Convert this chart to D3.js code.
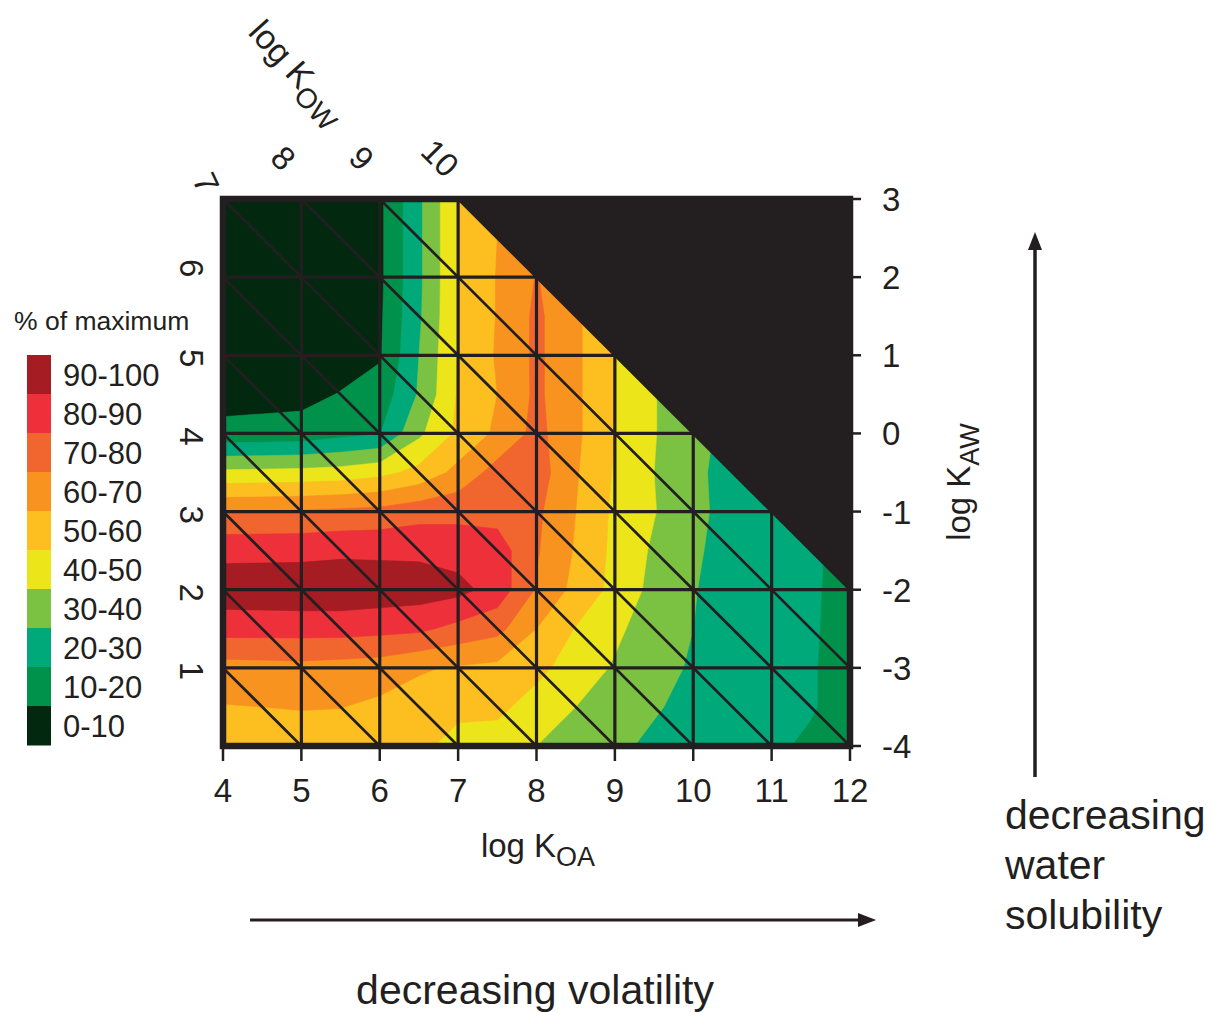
<!DOCTYPE html>
<html>
<head>
<meta charset="utf-8">
<script src="https://cdn.jsdelivr.net/npm/d3@7"></script>
<style>
  body { margin: 0; background: #ffffff; }
  text { font-family: Arial, "Liberation Sans", sans-serif; fill: #231f20; }
</style>
</head>
<body>
<svg id="chart" width="1218" height="1013"></svg>
<script>
// Grid positions of the estimated values
const koaGrid = [4, 4.5, 5, 5.5, 6, 6.5, 7, 7.5, 8, 8.5, 9, 9.5, 10, 10.5, 11, 11.5, 12];
const kawGrid = [3, 2.5, 2, 1.5, 1, 0.5, 0, -0.5, -1, -1.5, -2, -2.5, -3, -3.5, -4];

// % of maximum, one row per log KAW (columns follow koaGrid)
const pctKaw3    = [2, 2, 2, 3, 8, 28, 50, 60, 68, 62, 50, 40, 33, 27, 25, 24, 23];
const pctKaw2_5  = [2, 2, 2, 3, 8, 28, 50, 60, 69, 62, 50, 40, 33, 27, 25, 24, 23];
const pctKaw2    = [2, 2, 2, 3.5, 8, 28, 50, 60.5, 70.5, 62, 50, 40, 33, 27, 25, 24, 23];
const pctKaw1_5  = [3, 3, 3, 4, 8.5, 28.5, 50, 60.5, 72, 62, 50, 40.5, 33, 27, 25, 24, 23];
const pctKaw1    = [4, 4, 4, 5, 9, 30, 50.5, 61, 72, 62, 50, 40.5, 33, 27, 25, 24, 23];
const pctKaw0_5  = [6, 6.5, 7, 10.5, 14, 31, 51, 60, 72, 62, 50, 40.5, 33, 27, 25, 24, 23];
const pctKaw0    = [13, 13.5, 14, 17, 19.5, 38, 52, 62, 73, 62, 50, 40.5, 33, 27, 25, 24, 23];
const pctKawM0_5 = [42, 42.5, 43, 44, 47, 53, 63, 74, 75, 61, 49, 40, 32, 26.5, 25, 24, 23];
const pctKawM1   = [70, 70.5, 71, 72, 73, 76, 77, 76, 72, 60, 48, 40.5, 32.5, 26.5, 25, 24, 23];
const pctKawM1_5 = [87, 87, 87, 88, 88, 88, 86, 85, 71, 59, 47.5, 38.5, 31.5, 26, 25, 22, 16];
const pctKawM2   = [96, 96.5, 97, 97, 96, 95, 93, 86, 69, 57, 47, 37, 30.5, 26, 24.5, 21.5, 16];
const pctKawM2_5 = [84, 84, 84, 84, 83, 82, 77, 73, 60, 49.5, 42, 35, 30, 25.5, 24, 21.5, 15];
const pctKawM3   = [66, 66.5, 67, 66, 65, 61, 59, 57.5, 53, 45, 39, 33, 29, 25, 23.5, 21, 15];
const pctKawM3_5 = [59.5, 60, 60.5, 60.2, 58, 56, 52, 52.5, 45.5, 40, 35, 31, 27, 24, 23, 21, 15];
const pctKawM4   = [54, 54.5, 55, 55, 54, 52, 47, 45, 40, 37, 32, 28, 25, 23, 22, 18, 12];

// Axes and labels
const koaTicks = [4, 5, 6, 7, 8, 9, 10, 11, 12];
const kawTicks = [3, 2, 1, 0, -1, -2, -3, -4];
const kowTop = [8, 9, 10];
const kowLeft = [6, 5, 4, 3, 2, 1];
const kowCorner = 7;
const kowDiagonals = [1, 2, 3, 4, 5, 6, 7, 8, 9, 10];
const kowMax = 10;

// Legend bands (top to bottom)
const bandLabels = ["90-100", "80-90", "70-80", "60-70", "50-60", "40-50", "30-40", "20-30", "10-20", "0-10"];
const bandColours = ["#a51c22", "#ee303b", "#f1652e", "#f7931e", "#fdbe20", "#ebe51a", "#7cc242", "#00a97a", "#00924a", "#022810"];
const thresholds = [10, 20, 30, 40, 50, 60, 70, 80, 90];

const ink = "#231f20";
const svg = d3.select("#chart");

// Scales
const x = d3.scaleLinear().domain([4, 12]).range([223, 850]);
const y = d3.scaleLinear().domain([-4, 3]).range([746, 199]);

// grid coordinates (value i sits at i + 0.5) to pixels
const gx = d3.scaleLinear().domain([0.5, koaGrid.length - 0.5]).range([x(koaGrid[0]), x(koaGrid[koaGrid.length - 1])]);
const gy = d3.scaleLinear().domain([0.5, kawGrid.length - 0.5]).range([y(kawGrid[0]), y(kawGrid[kawGrid.length - 1])]);

const rows = [pctKaw3, pctKaw2_5, pctKaw2, pctKaw1_5, pctKaw1, pctKaw0_5, pctKaw0,
  pctKawM0_5, pctKawM1, pctKawM1_5, pctKawM2, pctKawM2_5, pctKawM3, pctKawM3_5, pctKawM4];
const values = rows.flat();

const contours = d3.contours()
  .size([koaGrid.length, kawGrid.length])
  .thresholds(thresholds)(values);

const path = d3.geoPath(d3.geoTransform({
  point: function (px, py) { this.stream.point(gx(px), gy(py)); }
}));

// Clip to plot area
svg.append("defs").append("clipPath")
  .attr("id", "plot-clip")
  .append("rect")
  .attr("x", x(4)).attr("y", y(3))
  .attr("width", x(12) - x(4)).attr("height", y(-4) - y(3));

const plot = svg.append("g").attr("clip-path", "url(#plot-clip)");

// 0-10 background
plot.append("rect")
  .attr("x", x(4)).attr("y", y(3))
  .attr("width", x(12) - x(4)).attr("height", y(-4) - y(3))
  .attr("fill", bandColours[bandColours.length - 1]);

// Filled contour bands
plot.append("g")
  .selectAll("path")
  .data(contours)
  .join("path")
  .attr("d", path)
  .attr("fill", (d, i) => bandColours[bandColours.length - 2 - i])
  .attr("stroke", (d, i) => bandColours[bandColours.length - 2 - i])
  .attr("stroke-width", 0.6);

// Region beyond log KOW = 10
plot.append("path")
  .attr("d", d3.line()([
    [x(kowMax - 3), y(3)],
    [x(12), y(kowMax - 12)],
    [x(12), y(3)]
  ]) + "Z")
  .attr("fill", ink);

// Grid lines
const grid = plot.append("g").attr("stroke", ink).attr("stroke-width", 3.2);
grid.selectAll(".v")
  .data(koaTicks.slice(1, -1))
  .join("line")
  .attr("class", "v")
  .attr("x1", d => x(d)).attr("x2", d => x(d))
  .attr("y1", y(3)).attr("y2", y(-4));
grid.selectAll(".h")
  .data(kawTicks.slice(1, -1))
  .join("line")
  .attr("class", "h")
  .attr("x1", x(4)).attr("x2", x(12))
  .attr("y1", d => y(d)).attr("y2", d => y(d));

// Diagonals of constant log KOW = log KOA + log KAW
plot.append("g")
  .attr("stroke", ink).attr("stroke-width", 2.7)
  .selectAll("line")
  .data(kowDiagonals)
  .join("line")
  .attr("x1", k => x(k - Math.min(3, k - 4)))
  .attr("y1", k => y(Math.min(3, k - 4)))
  .attr("x2", k => x(k - Math.max(-4, k - 12)))
  .attr("y2", k => y(Math.max(-4, k - 12)));

// Frame
svg.append("rect")
  .attr("x", x(4)).attr("y", y(3))
  .attr("width", x(12) - x(4)).attr("height", y(-4) - y(3))
  .attr("fill", "none")
  .attr("stroke", ink)
  .attr("stroke-width", 6.5);

// Bottom axis (log KOA)
svg.append("g")
  .selectAll("line")
  .data(koaTicks)
  .join("line")
  .attr("x1", d => x(d)).attr("x2", d => x(d))
  .attr("y1", y(-4)).attr("y2", y(-4) + 15)
  .attr("stroke", ink).attr("stroke-width", 2.5);

svg.append("g")
  .selectAll("text")
  .data(koaTicks)
  .join("text")
  .attr("x", d => x(d))
  .attr("y", 802)
  .attr("text-anchor", "middle")
  .attr("font-size", 33)
  .text(d => d);

const koaTitle = svg.append("text")
  .attr("x", 538).attr("y", 857)
  .attr("text-anchor", "middle")
  .attr("font-size", 33);
koaTitle.append("tspan").text("log K");
koaTitle.append("tspan").attr("font-size", 27).attr("dy", 9).text("OA");

// Right axis (log KAW)
svg.append("g")
  .selectAll("line")
  .data(kawTicks)
  .join("line")
  .attr("x1", x(12)).attr("x2", x(12) + 11)
  .attr("y1", d => y(d)).attr("y2", d => y(d))
  .attr("stroke", ink).attr("stroke-width", 2.5);

svg.append("g")
  .selectAll("text")
  .data(kawTicks)
  .join("text")
  .attr("x", 882)
  .attr("y", d => y(d) + 12)
  .attr("font-size", 33)
  .text(d => d);

const kawTitle = svg.append("text")
  .attr("transform", "translate(970,482) rotate(-90)")
  .attr("text-anchor", "middle")
  .attr("font-size", 33);
kawTitle.append("tspan").text("log K");
kawTitle.append("tspan").attr("font-size", 27).attr("dy", 9).text("AW");

// log KOW labels along the top and left edges
svg.append("g")
  .selectAll("text")
  .data(kowTop)
  .join("text")
  .attr("transform", k => `translate(${x(k - 3) - 18},158) rotate(45)`)
  .attr("text-anchor", "middle")
  .attr("dy", "0.35em")
  .attr("font-size", 33)
  .text(k => k);

svg.append("text")
  .attr("transform", "translate(206,183) rotate(65)")
  .attr("text-anchor", "middle")
  .attr("dy", "0.35em")
  .attr("font-size", 33)
  .text(kowCorner);

svg.append("g")
  .selectAll("text")
  .data(kowLeft)
  .join("text")
  .attr("transform", k => `translate(192,${y(k - 4) + (k === 6 ? -9 : 3)}) rotate(90)`)
  .attr("text-anchor", "middle")
  .attr("dy", "0.35em")
  .attr("font-size", 33)
  .text(k => k);

const kowTitle = svg.append("text")
  .attr("transform", "translate(298,72) rotate(48)")
  .attr("text-anchor", "middle")
  .attr("dy", "0.35em")
  .attr("font-size", 34);
kowTitle.append("tspan").text("log K");
kowTitle.append("tspan").attr("font-size", 28).attr("dy", 9).text("OW");

// Legend
svg.append("text")
  .attr("x", 14).attr("y", 330)
  .attr("font-size", 26.5)
  .text("% of maximum");

const legend = svg.append("g")
  .selectAll("g")
  .data(bandLabels)
  .join("g")
  .attr("transform", (d, i) => `translate(27,${355 + i * 39})`);

legend.append("rect")
  .attr("width", 24).attr("height", 39.5)
  .attr("fill", (d, i) => bandColours[i]);

legend.append("text")
  .attr("x", 36).attr("y", 31)
  .attr("font-size", 31)
  .text(d => d);

// Direction arrows
svg.append("line")
  .attr("x1", 250).attr("x2", 860)
  .attr("y1", 920).attr("y2", 920)
  .attr("stroke", ink).attr("stroke-width", 3);
svg.append("path")
  .attr("d", "M876,920 L858,913 L858,927 Z")
  .attr("fill", ink);

svg.append("line")
  .attr("x1", 1035).attr("x2", 1035)
  .attr("y1", 777).attr("y2", 248)
  .attr("stroke", ink).attr("stroke-width", 3.5);
svg.append("path")
  .attr("d", "M1035,232 L1028,250 L1042,250 Z")
  .attr("fill", ink);

svg.append("text")
  .attr("x", 535).attr("y", 1004)
  .attr("text-anchor", "middle")
  .attr("font-size", 41)
  .text("decreasing volatility");

svg.append("g")
  .selectAll("text")
  .data(["decreasing", "water", "solubility"])
  .join("text")
  .attr("x", 1005)
  .attr("y", (d, i) => 829 + i * 50)
  .attr("font-size", 41)
  .text(d => d);
</script>
</body>
</html>
